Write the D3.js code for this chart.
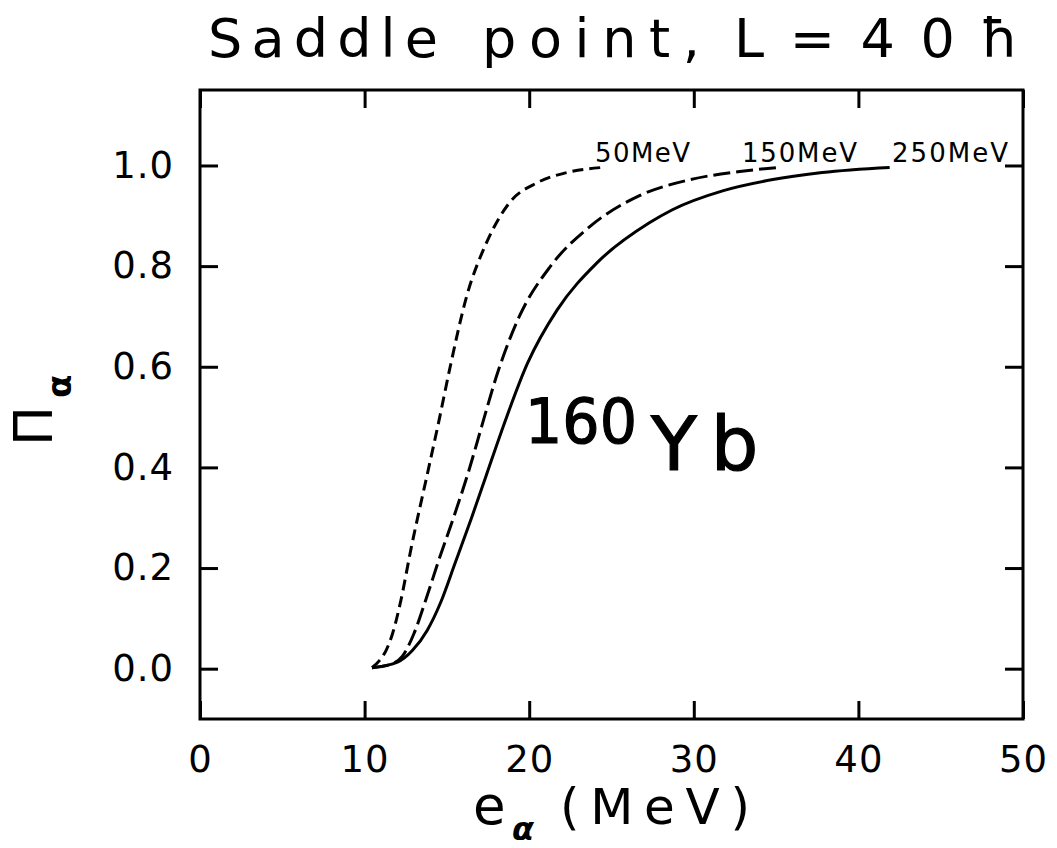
<!DOCTYPE html>
<html>
<head>
<meta charset="utf-8">
<script src="https://cdn.jsdelivr.net/npm/d3@7"></script>
<style>
  html, body { margin: 0; padding: 0; background: #fff; }
  text { font-family: "DejaVu Sans", sans-serif; fill: #000; }
</style>
</head>
<body>
<div id="chart"></div>
<script>
// Data (alpha energy in MeV, probability)
const e50 = [10.45, 10.9, 11.3, 11.7, 12.2, 12.8, 13.9, 14.5, 15.2, 16.2, 17.4, 18.8, 20.5, 22.3, 24.4];
const p50 = [0.002, 0.016, 0.036, 0.07, 0.135, 0.235, 0.40, 0.49, 0.60, 0.74, 0.846, 0.926, 0.966, 0.986, 0.996];

const e150 = [10.45, 11.5, 12.3, 13.0, 13.7, 14.5, 15.4, 16.3, 17.1, 18.1, 19.4, 21.3, 23.7, 26.7, 29.8, 32.8, 35.1];
const p150 = [0.002, 0.008, 0.025, 0.07, 0.135, 0.215, 0.30, 0.39, 0.48, 0.59, 0.70, 0.80, 0.879, 0.94, 0.972, 0.988, 0.996];

const e250 = [10.45, 12.0, 12.9, 13.8, 14.6, 15.5, 16.5, 17.4, 18.3, 19.9, 21.7, 24.1, 27.3, 28.7, 31.8, 34.8, 37.8, 41.9];
const p250 = [0.002, 0.013, 0.036, 0.076, 0.13, 0.21, 0.30, 0.385, 0.47, 0.607, 0.713, 0.806, 0.886, 0.912, 0.95, 0.972, 0.986, 0.996];

const curveLabels = ["50MeV", "150MeV", "250MeV"];
const titleWords = ["Saddle", "point,", "L=40ħ"];
const xTicks = [0, 10, 20, 30, 40, 50];
const yTicks = [0, 0.2, 0.4, 0.6, 0.8, 1.0];

// Layout
const width = 1057;
const height = 848;
const margin = { top: 90, right: 34, bottom: 129, left: 200 };
const plotW = width - margin.left - margin.right;
const plotH = height - margin.top - margin.bottom;

const svg = d3.select("#chart")
  .append("svg")
  .attr("width", width)
  .attr("height", height);

const g = svg.append("g")
  .attr("transform", `translate(${margin.left},${margin.top})`);

const x = d3.scaleLinear().domain([0, 50]).range([0, plotW]);
const y = d3.scaleLinear().domain([-0.1, 1.15]).range([plotH, 0]);

// Axes with inward ticks on all four sides
const styleAxis = (sel) => {
  sel.select(".domain").remove();
  sel.selectAll(".tick line").attr("stroke", "#000").attr("stroke-width", 3);
  sel.selectAll(".tick text")
    .style("font-size", "37px")
    .style("letter-spacing", "1px")
    .attr("fill", "#000");
};

g.append("g")
  .attr("transform", `translate(0,${plotH})`)
  .call(d3.axisBottom(x).tickValues(xTicks).tickSizeInner(-18).tickSizeOuter(0).tickPadding(27))
  .call(styleAxis);

g.append("g")
  .call(d3.axisTop(x).tickValues(xTicks).tickSizeInner(-18).tickSizeOuter(0).tickFormat(""))
  .call(styleAxis);

g.append("g")
  .call(d3.axisLeft(y).tickValues(yTicks).tickSizeInner(-18).tickSizeOuter(0).tickPadding(26).tickFormat(d3.format(".1f")))
  .call(styleAxis);

g.append("g")
  .attr("transform", `translate(${plotW},0)`)
  .call(d3.axisRight(y).tickValues(yTicks).tickSizeInner(-18).tickSizeOuter(0).tickFormat(""))
  .call(styleAxis);

// Frame
g.append("rect")
  .attr("width", plotW)
  .attr("height", plotH)
  .attr("fill", "none")
  .attr("stroke", "#000")
  .attr("stroke-width", 3);

// Curves
const line = d3.line()
  .x((d) => x(d[0]))
  .y((d) => y(d[1]))
  .curve(d3.curveMonotoneX);

const series = [
  { e: e50, p: p50, dash: "11,6" },
  { e: e150, p: p150, dash: "17,6" },
  { e: e250, p: p250, dash: null },
];

series.forEach((s) => {
  g.append("path")
    .datum(d3.zip(s.e, s.p))
    .attr("fill", "none")
    .attr("stroke", "#000")
    .attr("stroke-width", 3)
    .attr("stroke-linejoin", "round")
    .attr("stroke-dasharray", s.dash)
    .attr("d", line);
});

// Curve labels (placed above the curve ends)
const labelPos = [
  { x: 595, len: 95 },
  { x: 742, len: 115 },
  { x: 892, len: 116 },
];
curveLabels.forEach((t, i) => {
  svg.append("text")
    .attr("x", labelPos[i].x)
    .attr("y", 162)
    .attr("textLength", labelPos[i].len)
    .attr("lengthAdjust", "spacing")
    .style("font-size", "26px")
    .text(t);
});

// Title, one word at a time so the gaps stay narrow
const titlePos = [
  { x: 208, len: 230 },
  { x: 482, len: 218 },
  { x: 734, len: 284 },
];
titleWords.forEach((w, i) => {
  svg.append("text")
    .attr("x", titlePos[i].x)
    .attr("y", 57)
    .attr("textLength", titlePos[i].len)
    .attr("lengthAdjust", "spacing")
    .style("font-size", "54px")
    .text(w);
});

// Nucleus label
svg.append("text")
  .attr("x", 525)
  .attr("y", 443)
  .attr("textLength", 112)
  .attr("lengthAdjust", "spacingAndGlyphs")
  .attr("stroke", "#000")
  .attr("stroke-width", 1.2)
  .style("font-size", "62px")
  .text("160");

svg.append("text")
  .attr("x", 651)
  .attr("y", 470)
  .style("letter-spacing", "14px")
  .attr("stroke", "#000")
  .attr("stroke-width", 1.2)
  .style("font-size", "75px")
  .text("Yb");

// Y axis title: Π with subscript α
svg.append("text")
  .attr("transform", "translate(52,446) rotate(-90)")
  .style("font-size", "53px")
  .text("Π");

svg.append("text")
  .attr("transform", "translate(71,398) rotate(-90)")
  .style("font-size", "34px")
  .style("font-weight", "bold")
  .text("α");

// X axis title: e with subscript α, then (MeV)
svg.append("text")
  .attr("x", 473)
  .attr("y", 824)
  .style("font-size", "53px")
  .text("e");

svg.append("text")
  .attr("x", 512)
  .attr("y", 840)
  .style("font-size", "32px")
  .style("font-weight", "bold")
  .style("font-style", "italic")
  .text("α");

svg.append("text")
  .attr("x", 560)
  .attr("y", 824)
  .attr("textLength", 190)
  .attr("lengthAdjust", "spacing")
  .style("font-size", "50px")
  .text("(MeV)");
</script>
</body>
</html>
